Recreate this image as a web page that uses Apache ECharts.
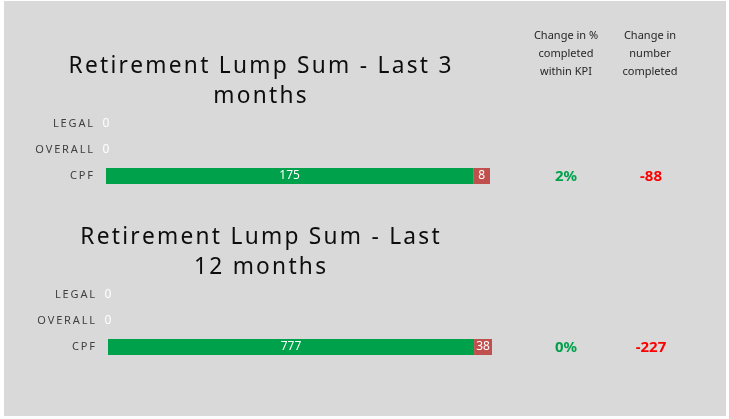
<!DOCTYPE html>
<html>
<head>
<meta charset="utf-8">
<script src="https://cdn.jsdelivr.net/npm/echarts@6/dist/echarts.min.js"></script>
<style>
  html, body { margin: 0; padding: 0; background: #fff; }
  #chart { position: absolute; left: 4px; top: 1px; width: 722px; height: 415px; }
</style>
</head>
<body>
<div id="chart"></div>
<script>
// 分类（从上到下）
const categories = ['LEGAL', 'OVERALL', 'CPF'];
// 近3个月
const within3 = [0, 0, 175];
const outside3 = [0, 0, 8];
// 近12个月
const within12 = [0, 0, 777];
const outside12 = [0, 0, 38];
// 右侧两列
const pctChange = ['2%', '0%'];
const numChange = [-88, -227];
const titles = ['Retirement Lump Sum - Last 3\nmonths', 'Retirement Lump Sum - Last\n12 months'];

const FONT = '"Noto Sans", sans-serif';
const GREEN = '#00a14b';
const RED = '#c0504d';

// 字母间距
const spaced = (s, sp) => s.split('\n').map(l => l.split('').join(sp)).join('\n');

function panel(idx, top, left, within, outside) {
  return {
    grid: { left: left, width: 384, top: top, height: 78 },
    xAxis: {
      type: 'value', gridIndex: idx, min: 0, max: 'dataMax',
      show: false
    },
    yAxis: {
      type: 'category', gridIndex: idx, data: categories, inverse: true,
      axisLine: { show: false }, axisTick: { show: false },
      axisLabel: {
        color: '#404040', fontSize: 11, fontFamily: FONT, margin: 13,
        formatter: v => spaced(v, '\u2009')
      }
    },
    series: [
      {
        type: 'bar', stack: 's' + idx, xAxisIndex: idx, yAxisIndex: idx,
        data: within, barWidth: 16, itemStyle: { color: GREEN },
        label: { show: true, position: 'inside', color: '#fff', fontSize: 12, fontFamily: FONT }
      },
      {
        type: 'bar', stack: 's' + idx, xAxisIndex: idx, yAxisIndex: idx,
        data: outside, barWidth: 16, itemStyle: { color: RED },
        label: {
          show: true, position: 'inside', color: '#fff', fontSize: 12, fontFamily: FONT,
          formatter: p => (p.value ? p.value : '')
        }
      }
    ]
  };
}

const p1 = panel(0, 110, 102, within3, outside3);
const p2 = panel(1, 281, 104, within12, outside12);

const chart = echarts.init(document.getElementById('chart'));

const headerStyle = { fill: '#262626', fontSize: 11, fontFamily: FONT, lineHeight: 18, align: 'center' };
const graphic = [
  { type: 'text', x: 562, y: 26, style: Object.assign({ text: 'Change in %\ncompleted\nwithin KPI' }, headerStyle) },
  { type: 'text', x: 646, y: 26, style: Object.assign({ text: 'Change in\nnumber\ncompleted' }, headerStyle) }
];
const rowY = [176, 347];
titles.forEach((t, i) => {
  graphic.push({
    type: 'text', x: 256, y: i === 0 ? 51 : 222,
    style: {
      text: spaced(t, '\u200A'), fill: '#0d0d0d', fontSize: 22.7, fontFamily: FONT,
      align: 'center', lineHeight: 29.5
    }
  });
  graphic.push({
    type: 'text', x: 562, y: rowY[i], style: {
      text: pctChange[i], fill: GREEN, fontSize: 15, fontWeight: 'bold', fontFamily: FONT,
      align: 'center', verticalAlign: 'middle'
    }
  });
  graphic.push({
    type: 'text', x: 647, y: rowY[i], style: {
      text: String(numChange[i]), fill: '#ff0000', fontSize: 15, fontWeight: 'bold', fontFamily: FONT,
      align: 'center', verticalAlign: 'middle'
    }
  });
});

chart.setOption({
  backgroundColor: '#d9d9d9',
  animation: false,
  grid: [p1.grid, p2.grid],
  xAxis: [p1.xAxis, p2.xAxis],
  yAxis: [p1.yAxis, p2.yAxis],
  series: p1.series.concat(p2.series),
  graphic: graphic
});
window.onresize = chart.resize;
</script>
</body>
</html>
